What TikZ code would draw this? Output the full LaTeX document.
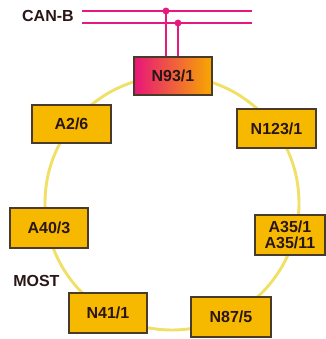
\documentclass[tikz,border=0pt]{standalone}
\usepackage{fontspec}
\setmainfont{Liberation Sans}
\definecolor{boxfill}{HTML}{F6B900}
\definecolor{boxedge}{HTML}{4A3A2A}
\definecolor{txt}{HTML}{2A1616}
\definecolor{ringc}{HTML}{F0E068}
\definecolor{busc}{HTML}{E5197E}
\definecolor{gradL}{HTML}{E8157A}
\definecolor{gradR}{HTML}{F7A800}
\begin{document}
\begin{tikzpicture}[x=0.75pt,y=-0.75pt,
  ecu/.style={draw=boxedge,line width=1.1pt,fill=boxfill,inner sep=0pt,
    font=\fontsize{12}{12.5}\selectfont\bfseries,text=txt,align=center},
  lbl/.style={font=\fontsize{12}{13}\selectfont\bfseries,text=txt,inner sep=0pt},
  bus/.style={draw=busc,line width=1.9pt},
  ring/.style={draw=ringc,line width=2.2pt}]
\useasboundingbox (0,0) rectangle (325,339);
\coordinate (c) at (172,203);
\draw[ring] (c) circle[radius=95.25pt];
% bus lines
\coordinate (b1s) at (82,11);
\coordinate (b1e) at (252,11);
\coordinate (b2s) at (82,23);
\coordinate (b2e) at (252,23);
\coordinate (d1) at (166,11);
\coordinate (d2) at (178,23);
\draw[bus] (b1s) -- (b1e);
\draw[bus] (b2s) -- (b2e);
\node[lbl,anchor=east] (canb) at (74,16) {CAN-B};
% ECUs
\node[ecu,minimum width=58.5pt,minimum height=28.5pt,shading=axis,left color=gradL,right color=gradR] (n93) at (173,76) {N93/1};
\draw[bus] (d1) -- (d1 |- n93.north);
\draw[bus] (d2) -- (d2 |- n93.north);
\fill[busc] (d1) circle[radius=2.6pt];
\fill[busc] (d2) circle[radius=2.6pt];
\node[ecu,minimum width=59pt,minimum height=28.5pt] (a26) at (71.5,124) {A2/6};
\node[ecu,minimum width=59pt,minimum height=29pt] (n123) at (276.5,128.5) {N123/1};
\node[ecu,minimum width=58.5pt,minimum height=30pt] (a403) at (49,228) {A40/3};
\node[ecu,minimum width=52.5pt,minimum height=30pt] (a35) at (290,235) {A35/1\\A35/11};
\node[ecu,minimum width=58.5pt,minimum height=30pt] (n411) at (108,313) {N41/1};
\node[ecu,minimum width=60pt,minimum height=30pt] (n875) at (231,317) {N87/5};
\node[lbl,anchor=west] (most) at (13,281) {MOST};
\end{tikzpicture}
\end{document}
